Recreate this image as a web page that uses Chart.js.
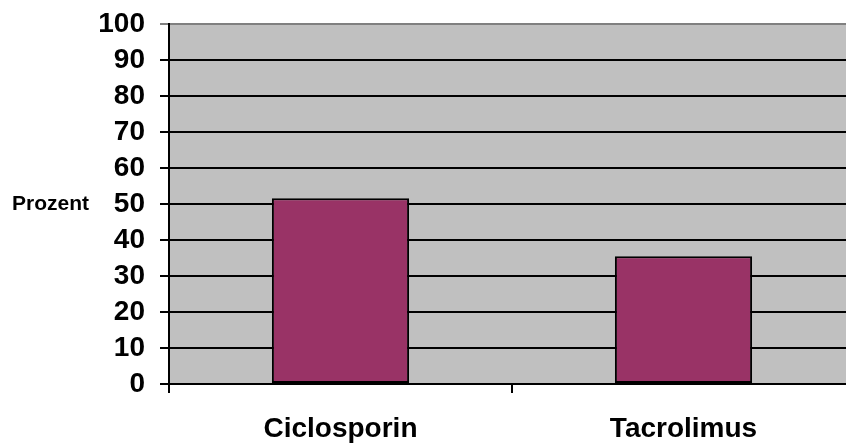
<!DOCTYPE html>
<html>
<head>
<meta charset="utf-8">
<script src="https://cdn.jsdelivr.net/npm/chart.js@4/dist/chart.umd.min.js"></script>
<style>
  html, body { margin: 0; padding: 0; background: #ffffff; overflow: hidden; }
  #wrap { position: absolute; left: 0; top: 0; width: 870px; height: 443px; }
</style>
</head>
<body>
<div id="wrap"><canvas id="chart"></canvas></div>
<script>
// Share of patients per immunosuppressant (percent)
const categories = ['Ciclosporin', 'Tacrolimus'];
const percentValues = [51.6, 35.5];
const axisTitle = 'Prozent';
const yMin = 0;
const yMax = 100;
const yStep = 10;

const FONT = "'Liberation Sans', Arial, Helvetica, sans-serif";

// Grey plot background plus the horizontal axis title on the left
const plotDecor = {
  id: 'plotDecor',
  beforeDraw(chart) {
    const { ctx, chartArea } = chart;
    ctx.save();
    ctx.fillStyle = '#c0c0c0';
    ctx.fillRect(chartArea.left, chartArea.top,
                 chartArea.right - chartArea.left, chartArea.bottom - chartArea.top);
    ctx.restore();
  },
  afterDraw(chart) {
    const { ctx, chartArea } = chart;
    ctx.save();
    ctx.fillStyle = '#000000';
    ctx.font = 'bold 21px ' + FONT;
    ctx.textAlign = 'left';
    ctx.textBaseline = 'middle';
    ctx.fillText(axisTitle, 12, (chartArea.top + chartArea.bottom) / 2);
    ctx.restore();
  }
};

new Chart(document.getElementById('chart'), {
  type: 'bar',
  data: {
    labels: categories,
    datasets: [{
      data: percentValues,
      backgroundColor: '#993366',
      borderColor: '#000000',
      borderWidth: 2,
      borderSkipped: false,
      barPercentage: 0.4,
      categoryPercentage: 1.0
    }]
  },
  options: {
    responsive: true,
    maintainAspectRatio: false,
    animation: false,
    layout: { padding: { top: 24, right: 15, bottom: 0, left: 0 } },
    plugins: {
      legend: { display: false },
      tooltip: { enabled: false }
    },
    scales: {
      x: {
        grid: {
          offset: true,
          drawOnChartArea: false,
          drawTicks: true,
          tickLength: 9,
          color: '#000000',
          lineWidth: 2
        },
        border: { display: true, color: '#000000', width: 2 },
        ticks: {
          color: '#000000',
          padding: 19,
          font: { family: FONT, size: 28, weight: 'bold' }
        },
        afterFit(scale) {
          scale.height = 59;
          scale.paddingLeft = 0;
          scale.paddingRight = 0;
        }
      },
      y: {
        min: yMin,
        max: yMax,
        ticks: {
          stepSize: yStep,
          autoSkip: false,
          color: '#000000',
          padding: 15,
          font: { family: FONT, size: 28, weight: 'bold' }
        },
        grid: {
          drawTicks: true,
          tickLength: 9,
          lineWidth: 2,
          color: (c) => (c.tick && c.tick.value === yMax ? '#808080' : '#000000')
        },
        border: { display: true, color: '#000000', width: 2 },
        afterFit(scale) {
          scale.width = 169;
          scale.paddingTop = 0;
          scale.paddingBottom = 0;
        }
      }
    }
  },
  plugins: [plotDecor]
});
</script>
</body>
</html>
